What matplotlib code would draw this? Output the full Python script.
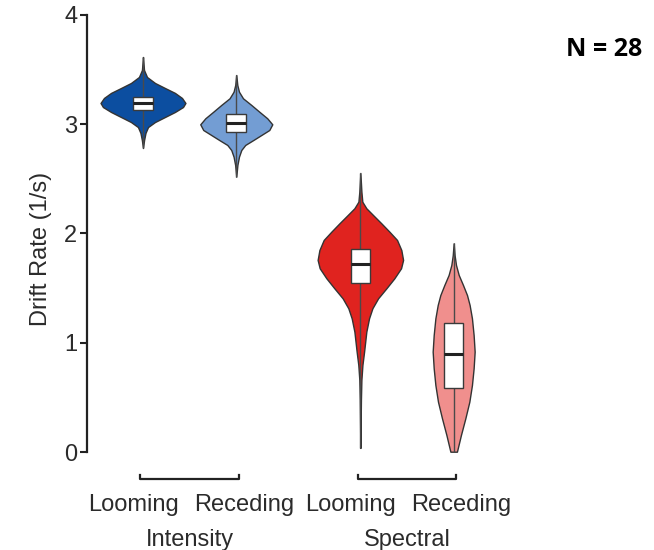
import matplotlib.pyplot as plt
from matplotlib.patches import Rectangle

plt.rcParams['font.family'] = ['Liberation Sans', 'DejaVu Sans']

groups = ['Intensity', 'Spectral']
conditions = ['Looming', 'Receding']
positions = [1.0, 2.0, 3.33, 4.33]
colors = ['#0c4ea0', '#739dd3', '#e0231f', '#f08f8d']

# violin outlines: drift-rate levels and half-width of the density there
int_loom_y = [3.614, 3.56, 3.495, 3.431, 3.376, 3.330, 3.285, 3.239, 3.193, 3.156,
              3.111, 3.065, 3.019, 2.973, 2.919, 2.855, 2.781]
int_loom_w = [0.0, 0.005, 0.011, 0.043, 0.129, 0.236, 0.343, 0.418, 0.455, 0.429,
              0.343, 0.236, 0.129, 0.054, 0.027, 0.012, 0.0]
int_rec_y = [3.449, 3.358, 3.296, 3.236, 3.175, 3.113, 3.053, 2.998, 2.946, 2.900,
             2.854, 2.809, 2.763, 2.702, 2.626, 2.519]
int_rec_w = [0.0, 0.011, 0.029, 0.072, 0.161, 0.247, 0.332, 0.386, 0.354, 0.268,
             0.182, 0.096, 0.054, 0.029, 0.012, 0.0]
spec_loom_y = [2.553, 2.382, 2.290, 2.230, 2.168, 2.092, 2.016, 1.940, 1.848, 1.757,
               1.681, 1.589, 1.498, 1.406, 1.315, 1.223, 1.101, 0.918, 0.796, 0.659,
               0.476, 0.037]
spec_loom_w = [0.0, 0.011, 0.021, 0.064, 0.136, 0.225, 0.311, 0.393, 0.439, 0.458,
               0.436, 0.364, 0.279, 0.190, 0.129, 0.093, 0.064, 0.040, 0.022, 0.011,
               0.006, 0.0]
spec_rec_y = [1.909, 1.80, 1.711, 1.620, 1.528, 1.436, 1.345, 1.223, 1.070, 0.918,
              0.766, 0.613, 0.460, 0.308, 0.156, 0.003]
spec_rec_w = [0.0, 0.010, 0.025, 0.054, 0.100, 0.143, 0.171, 0.196, 0.214, 0.225,
              0.214, 0.196, 0.168, 0.125, 0.078, 0.035]

violin_y = [int_loom_y, int_rec_y, spec_loom_y, spec_rec_y]
violin_w = [int_loom_w, int_rec_w, spec_loom_w, spec_rec_w]

# box plot summaries
box_q1 = [3.13, 2.93, 1.55, 0.583]
box_med = [3.19, 3.01, 1.717, 0.897]
box_q3 = [3.25, 3.09, 1.86, 1.178]

fig = plt.figure(figsize=(6.54, 5.5), dpi=100)
ax = fig.add_axes([87 / 654, 94.7 / 550, 470 / 654, 443.8 / 550])

box_w = 0.21
for i, pos in enumerate(positions):
    ys = violin_y[i]
    ws = violin_w[i]
    left = [pos - w for w in ws]
    right = [pos + w for w in ws]
    ax.fill_betweenx(ys, left, right, facecolor=colors[i], edgecolor='#333333',
                     linewidth=1.0, zorder=2)
    ax.vlines(pos, min(ys), max(ys), color='#4a4a4a', linewidth=1.0, zorder=3)
    ax.add_patch(Rectangle((pos - box_w / 2, box_q1[i]), box_w, box_q3[i] - box_q1[i],
                           facecolor='white', edgecolor='#3a3a3a', linewidth=1.0, zorder=4))
    ax.hlines(box_med[i], pos - box_w / 2, pos + box_w / 2, color='#222222',
              linewidth=2.2, zorder=5)

text_color = '#2b2b2b'
ax.set_xlim(0.40, 0.40 + 470 / 93.3)
ax.set_ylim(-0.03, 4.03)
ax.set_yticks([0, 1, 2, 3, 4])
ax.tick_params(axis='y', labelsize=17, length=5, width=1.5, pad=2, color='#222222',
               labelcolor=text_color)
ax.set_xticks([])
for side in ['top', 'right', 'bottom']:
    ax.spines[side].set_visible(False)
ax.spines['left'].set_bounds(0, 4)
ax.spines['left'].set_linewidth(1.6)
ax.spines['left'].set_color('#222222')
ax.set_ylabel('Drift Rate (1/s)', fontsize=17, color=text_color)
ax.yaxis.set_label_coords(-0.075, 0.465)

# group brackets and labels underneath the axis
xt = ax.get_xaxis_transform()
for g, name in enumerate(groups):
    p0, p1 = positions[2 * g], positions[2 * g + 1]
    mid = (p0 + p1) / 2
    ax.plot([mid - 0.53, mid - 0.53, mid + 0.53, mid + 0.53],
            [-0.044, -0.053, -0.053, -0.044], transform=xt, clip_on=False,
            color='#222222', linewidth=1.6)
    ax.annotate(conditions[0], (mid, -0.1255), xycoords=xt, xytext=(-8, 0),
                textcoords='offset points', ha='right', va='baseline', fontsize=17,
                color=text_color)
    ax.annotate(conditions[1], (mid, -0.1255), xycoords=xt, xytext=(3, 0),
                textcoords='offset points', ha='left', va='baseline', fontsize=17,
                color=text_color)
    ax.text(mid, -0.204, name, transform=xt, ha='center', va='baseline', fontsize=17,
            color=text_color)

fig.text(642 / 654, 1 - 50 / 550, 'N = 28', ha='right', va='center', fontsize=18,
         fontweight='bold', family=['Open Sans', 'DejaVu Sans'])

fig.savefig('out.png', dpi=100)
